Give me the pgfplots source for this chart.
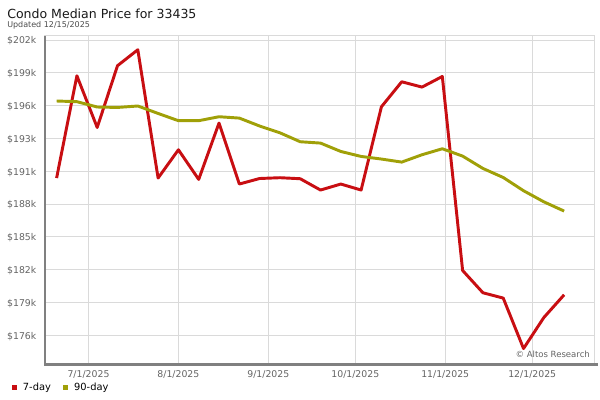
\documentclass[border=0pt]{standalone}
\usepackage{pgfplots}
\pgfplotsset{compat=1.18}
\usepackage{fontspec}
\setmainfont{DejaVu Sans}
\definecolor{redline}{RGB}{200,14,18}
\definecolor{oliveline}{RGB}{160,160,8}
\definecolor{gridc}{RGB}{218,218,218}
\definecolor{axisc}{RGB}{128,128,128}
\definecolor{tickc}{RGB}{100,100,100}
\begin{document}
\begin{tikzpicture}
\useasboundingbox (0,0) rectangle (450pt,300pt);
\node[anchor=base west, inner sep=0, font=\fontsize{9.4pt}{11pt}\selectfont, text=black!90] at (5.25pt,285.75pt) {Condo Median Price for 33435};
\node[anchor=base west, inner sep=0, font=\fontsize{6pt}{7pt}\selectfont, text=black!70] at (5.25pt,279pt) {Updated 12/15/2025};
\begin{axis}[
  at={(33.75pt,26.8pt)}, anchor=south west,
  scale only axis, width=411.75pt, height=246.4pt,
  xmin=-15, xmax=174.3, ymin=173.49, ymax=202.53,
  clip=false,
  axis line style={draw=gridc, line width=0.75pt},
  grid=major, major grid style={draw=gridc, line width=0.75pt},
  major tick length=0pt,
  xtick={0,31,62,92,123,153},
  xticklabels={7/1/2025,8/1/2025,9/1/2025,10/1/2025,11/1/2025,12/1/2025},
  ytick={202.15,199.25,196.35,193.45,190.55,187.65,184.75,181.85,178.95,176.05},
  yticklabels={\$202k,\$199k,\$196k,\$193k,\$191k,\$188k,\$185k,\$182k,\$179k,\$176k},
  tick label style={font=\fontsize{7pt}{8pt}\selectfont, text=tickc},
  yticklabel style={xshift=-3pt, yshift=-0.8pt},
  xticklabel style={yshift=-1.2pt},
  legend columns=2,
  legend style={at={(-0.061,-0.071)}, anchor=west, draw=none, fill=none, inner sep=0pt,
    font=\fontsize{7.4pt}{8pt}\selectfont,
    /tikz/every odd column/.append style={column sep=2.5pt},
    /tikz/every even column/.append style={column sep=7pt}},
  legend image code/.code={\fill[#1, draw=none] (0pt,-1.9pt) rectangle (3.9pt,1.9pt);},
]
\addplot[redline, line width=2.2pt, line join=round] coordinates {
(-11,189.95) (-4,198.99) (3,194.42) (10,199.88) (17,201.29) (24,189.95)
(31,192.45) (38,189.83) (45,194.81) (52,189.42) (59,189.91) (66,189.98)
(73,189.89) (80,188.89) (87,189.42) (94,188.89) (101,196.25) (108,198.46)
(115,197.99) (122,198.93) (129,181.78) (136,179.81) (143,179.34) (150,174.88)
(157,177.62) (164,179.63)};
\addlegendentry{7-day}
\addplot[oliveline, line width=2.2pt, line join=round] coordinates {
(-11,196.76) (-4,196.70) (3,196.23) (10,196.19) (17,196.32) (24,195.66)
(31,195.02) (38,195.02) (45,195.37) (52,195.25) (59,194.55) (66,193.95)
(73,193.16) (80,193.04) (87,192.30) (94,191.86) (101,191.63) (108,191.36)
(115,192.01) (122,192.54) (129,191.89) (136,190.80) (143,190.00) (150,188.83)
(157,187.85) (164,187.03)};
\addlegendentry{90-day}
\draw[axisc, line width=2.2pt] (rel axis cs:0,1) -- (rel axis cs:0,0) -- ([xshift=3pt]rel axis cs:1,0);
\node[anchor=base east, inner sep=0, font=\fontsize{6.4pt}{7pt}\selectfont, text=tickc] at (rel axis cs:0.993,0.02) {© Altos Research};
\end{axis}
\end{tikzpicture}
\end{document}
